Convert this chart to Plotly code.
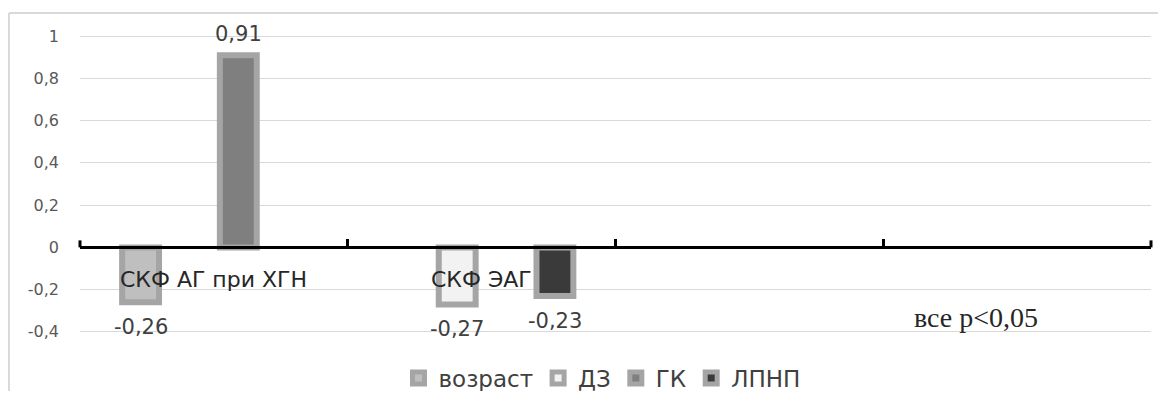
import plotly.graph_objects as go

# ---- data ----
categories = ["СКФ АГ при ХГН", "СКФ ЭАГ", " ", "  "]
series_names = ["возраст", "ДЗ", "ГК", "ЛПНП"]
vozrast = [-0.26, None, None, None]
dz = [None, -0.27, None, None]
gk = [0.91, None, None, None]
lpnp = [None, -0.23, None, None]
y_tickvals = [-0.4, -0.2, 0, 0.2, 0.4, 0.6, 0.8, 1]
y_ticktext = ["-0,4", "-0,2", "0", "0,2", "0,4", "0,6", "0,8", "1"]
note_text = "все p&lt;0,05"

series_values = [vozrast, dz, gk, lpnp]
fill_colors = ["#bfbfbf", "#f2f2f2", "#7f7f7f", "#3a3a3a"]
edge_color = "#a5a5a5"

# the page body has an 8px default margin -> design in figure coords
OFF = 8
W, H = 1168 - 2 * OFF - 2, 401 - 2 * OFF - 2
PLOT_W, PLOT_H = 1071, 338
ML, MT = 80 - OFF, 15 - OFF
MR = W - ML - PLOT_W
MB = H - MT - PLOT_H
Y_RANGE = [-0.5, 1.1]
BARGAP = 0.27


def fmt(v):
    return "" if v is None else f"{v:.2f}".replace(".", ",")


fig = go.Figure()
for name, vals, col in zip(series_names, series_values, fill_colors):
    fig.add_trace(go.Bar(
        name=name, x=categories, y=vals,
        marker=dict(color=col, line=dict(color=edge_color, width=6)),
    ))

zero_pos = (0 - Y_RANGE[0]) / (Y_RANGE[1] - Y_RANGE[0])

annotations = []
# data labels, placed at the grouped-bar centre of each series
n = len(series_names)
slot = (1 - BARGAP) / n
for i, vals in enumerate(series_values):
    for ci, v in enumerate(vals):
        if v is None:
            continue
        annotations.append(dict(
            x=ci + (i - (n - 1) / 2) * slot, y=v, xref="x", yref="y",
            text=fmt(v), showarrow=False, yanchor="middle",
            yshift=21 if v >= 0 else -25,
            font=dict(family="DejaVu Sans", size=21, color="#404040"),
        ))
# category labels just under the zero line
for cat in categories[:2]:
    annotations.append(dict(
        x=cat, y=0, xref="x", yref="y", text=cat, showarrow=False,
        yshift=-32, yanchor="middle",
        font=dict(family="DejaVu Sans", size=22, color="#262626"),
    ))
annotations.append(dict(
    x=(976 - 80) / PLOT_W, y=-0.33, xref="paper", yref="y", text=note_text,
    showarrow=False, xanchor="center", yanchor="middle",
    font=dict(family="Liberation Serif", size=28, color="#262626"),
))


def px_x(px):
    return (px - OFF - ML) / PLOT_W


def px_y(py):
    return (H - MB - (py - OFF)) / PLOT_H


tick_h = 7 / PLOT_H
shapes = [
    dict(type="line", xref="paper", yref="paper", x0=px_x(9), x1=px_x(1180),
         y0=px_y(13), y1=px_y(13), line=dict(color="#d9d9d9", width=2)),
    dict(type="line", xref="paper", yref="paper", x0=px_x(9), x1=px_x(9),
         y0=px_y(13), y1=px_y(410), line=dict(color="#d9d9d9", width=2)),
    # end ticks of the category axis
    dict(type="line", xref="paper", yref="paper", x0=0, x1=0,
         y0=zero_pos, y1=zero_pos + tick_h, line=dict(color="black", width=3)),
    dict(type="line", xref="paper", yref="paper", x0=1, x1=1,
         y0=zero_pos, y1=zero_pos + tick_h, line=dict(color="black", width=3)),
]

fig.update_layout(
    width=W, height=H,
    margin=dict(l=ML, r=MR, t=MT, b=MB, autoexpand=False),
    paper_bgcolor="white", plot_bgcolor="white",
    barmode="group", bargap=BARGAP, bargroupgap=0.245,
    separators=", ",
    font=dict(family="DejaVu Sans", color="#595959"),
    showlegend=True,
    legend=dict(orientation="h", xref="container", yref="container",
                x=(602 - OFF) / W, xanchor="center",
                y=1 - (378 - OFF) / H, yanchor="middle",
                font=dict(size=23, color="#404040"),
                itemwidth=30, traceorder="normal"),
    annotations=annotations,
    shapes=shapes,
)
fig.update_xaxes(
    type="category", categoryorder="array", categoryarray=categories,
    range=[-0.5, len(categories) - 0.5],
    anchor="free", position=zero_pos,
    showline=True, linecolor="black", linewidth=3,
    ticks="inside", tickson="boundaries", ticklen=7, tickwidth=3, tickcolor="black",
    showticklabels=False, showgrid=False, zeroline=False,
)
fig.update_yaxes(
    range=Y_RANGE, tickvals=y_tickvals, ticktext=y_ticktext,
    showgrid=True, gridcolor="#d9d9d9", gridwidth=1, zeroline=False,
    showline=False, ticks="", ticklabelstandoff=20,
    tickfont=dict(family="DejaVu Sans", size=16, color="#595959"),
)

fig.write_html("out.html")
